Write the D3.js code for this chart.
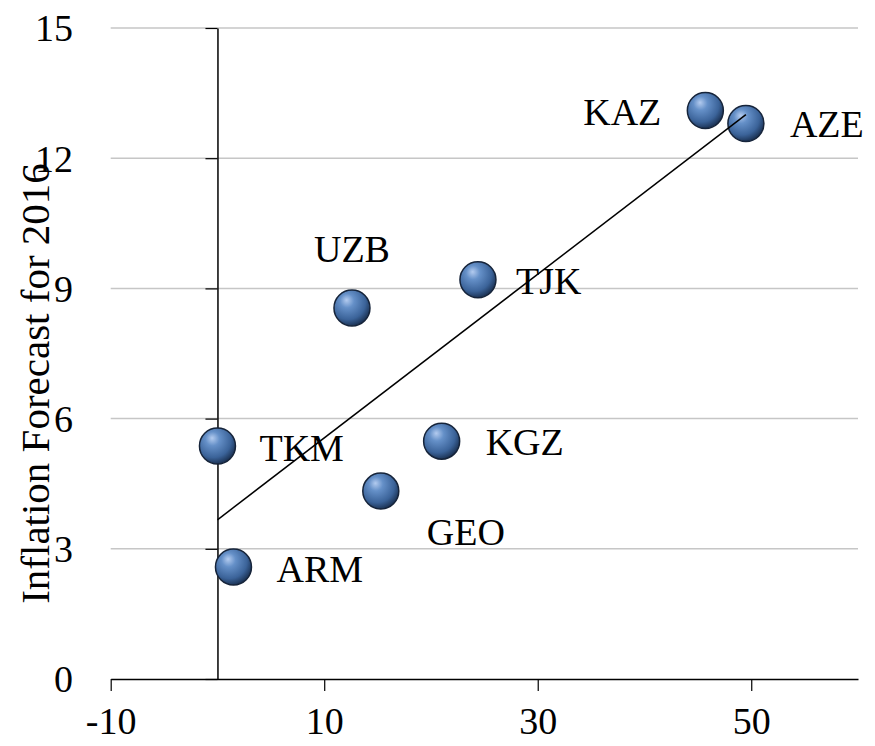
<!DOCTYPE html>
<html>
<head>
<meta charset="utf-8">
<script src="https://cdn.jsdelivr.net/npm/d3@7"></script>
<style>
  body { margin: 0; background: #fff; }
  svg text { font-family: "Liberation Serif", "DejaVu Serif", serif; fill: #000; }
</style>
</head>
<body>
<svg id="chart" width="875" height="746"></svg>
<script>
const countries = ["KAZ", "AZE", "UZB", "TJK", "TKM", "KGZ", "GEO", "ARM"];
const xValues = [45.7, 49.5, 12.6, 24.4, 0.0, 21.0, 15.3, 1.5];
const inflation = [13.1, 12.8, 8.55, 9.2, 5.37, 5.48, 4.33, 2.58];
const xTicks = [-10, 10, 30, 50];
const yTicks = [0, 3, 6, 9, 12, 15];
const yTitle = "Inflation Forecast for 2016";

// label placement relative to each point
const labelPos = {
  KAZ: { dx: -44, dy: 15, anchor: "end" },
  AZE: { dx: 44, dy: 14, anchor: "start" },
  UZB: { dx: 0, dy: -46, anchor: "middle" },
  TJK: { dx: 38, dy: 14, anchor: "start" },
  TKM: { dx: 42, dy: 15, anchor: "start" },
  KGZ: { dx: 44, dy: 14, anchor: "start" },
  GEO: { dx: 85, dy: 54, anchor: "middle" },
  ARM: { dx: 43, dy: 15, anchor: "start" }
};

const data = countries.map((c, i) => ({ name: c, x: xValues[i], y: inflation[i] }));

const svg = d3.select("#chart");

const x = d3.scaleLinear().domain([-10, 60]).range([110.7, 858]);
const y = d3.scaleLinear().domain([0, 15]).range([679, 28]);

// gradient for the ball markers
const defs = svg.append("defs");
const grad = defs.append("radialGradient")
  .attr("id", "ball")
  .attr("cx", "40%").attr("cy", "35%").attr("r", "65%")
  .attr("fx", "35%").attr("fy", "28%");
grad.append("stop").attr("offset", "0%").attr("stop-color", "#b3cbef");
grad.append("stop").attr("offset", "30%").attr("stop-color", "#6590c8");
grad.append("stop").attr("offset", "75%").attr("stop-color", "#3b6399");
grad.append("stop").attr("offset", "100%").attr("stop-color", "#1d3558");

// gridlines
svg.append("g")
  .selectAll("line")
  .data(yTicks.filter(d => d > 0))
  .join("line")
  .attr("x1", x(-10)).attr("x2", x(60))
  .attr("y1", d => y(d)).attr("y2", d => y(d))
  .attr("stroke", "#c6c6c6")
  .attr("stroke-width", 1.5);

// x axis
const xAxis = svg.append("g")
  .attr("transform", `translate(0,${y(0)})`)
  .call(d3.axisBottom(x).tickValues(xTicks).tickSize(12).tickSizeOuter(0).tickPadding(16)
    .tickFormat(d => String(d)));
xAxis.select(".domain").attr("stroke", "#000").attr("stroke-width", 1.5);
xAxis.selectAll(".tick line").attr("stroke", "#000").attr("stroke-width", 1.2);
xAxis.selectAll("text").style("font-size", "38px").attr("font-family", null);

// y axis drawn at x = 0
const yAxis = svg.append("g")
  .attr("transform", `translate(${x(0)},0)`)
  .call(d3.axisLeft(y).tickValues(yTicks).tickSize(12).tickSizeOuter(0).tickFormat(""));
yAxis.select(".domain").attr("stroke", "#000").attr("stroke-width", 1.5);
yAxis.selectAll(".tick line").attr("stroke", "#000").attr("stroke-width", 1.2);

// y tick labels sit at the left edge of the plot
svg.append("g")
  .selectAll("text")
  .data(yTicks)
  .join("text")
  .attr("x", 73)
  .attr("y", d => y(d))
  .attr("dy", "0.35em")
  .attr("text-anchor", "end")
  .style("font-size", "38px")
  .text(d => d);

// y axis title
svg.append("text")
  .attr("transform", `translate(49,${(y(0) + y(15)) / 2 + 30}) rotate(-90)`)
  .attr("text-anchor", "middle")
  .style("font-size", "41px")
  .text(yTitle);

// points
svg.append("g")
  .selectAll("circle")
  .data(data)
  .join("circle")
  .attr("cx", d => x(d.x))
  .attr("cy", d => y(d.y))
  .attr("r", 18)
  .attr("fill", "url(#ball)")
  .attr("stroke", "#16243a")
  .attr("stroke-width", 1.5);

// least squares trend line, drawn over the markers
const mx = d3.mean(data, d => d.x), my = d3.mean(data, d => d.y);
const slope = d3.sum(data, d => (d.x - mx) * (d.y - my)) / d3.sum(data, d => (d.x - mx) ** 2);
const intercept = my - slope * mx;
const [xmin, xmax] = d3.extent(data, d => d.x);
svg.append("line")
  .attr("x1", x(xmin)).attr("y1", y(intercept + slope * xmin))
  .attr("x2", x(xmax)).attr("y2", y(intercept + slope * xmax))
  .attr("stroke", "#000")
  .attr("stroke-width", 1.5);

// labels
svg.append("g")
  .selectAll("text")
  .data(data)
  .join("text")
  .attr("x", d => x(d.x) + labelPos[d.name].dx)
  .attr("y", d => y(d.y) + labelPos[d.name].dy)
  .attr("text-anchor", d => labelPos[d.name].anchor)
  .style("font-size", "38px")
  .text(d => d.name);
</script>
</body>
</html>
